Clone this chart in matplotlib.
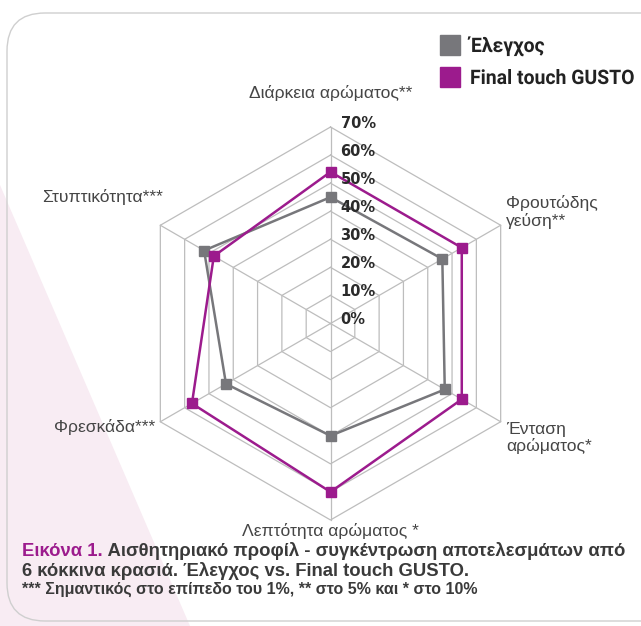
import numpy as np
import matplotlib.pyplot as plt
from matplotlib.patches import FancyBboxPatch, Polygon, PathPatch
from matplotlib.textpath import TextPath
from matplotlib.font_manager import FontProperties
from matplotlib.transforms import Affine2D

# Δεδομένα (% ποσοστά)
labels = ['Διάρκεια αρώματος**', 'Φρουτώδης\nγεύση**', 'Ένταση\nαρώματος*',
          'Λεπτότητα αρώματος *', 'Φρεσκάδα***', 'Στυπτικότητα***']
elegxos = [45, 46, 47, 40, 43, 52]
gusto = [54, 54, 54, 60, 57, 48]
rings = [10, 20, 30, 40, 50, 60, 70]
ring_labels = ['0%', '10%', '20%', '30%', '40%', '50%', '60%', '70%']
series_names = ['Έλεγχος', 'Final touch GUSTO']

grey = '#77777b'
purple = '#9c1b8d'
text_col = '#454545'

fig = plt.figure(figsize=(6.41, 6.26), dpi=100)
ax = fig.add_axes([0, 0, 1, 1])
ax.set_xlim(0, 641)
ax.set_ylim(626, 0)
ax.axis('off')

# φόντο
ax.add_patch(Polygon([(0, 185), (190, 626), (0, 626)], closed=True,
                     facecolor='#f8ecf3', edgecolor='none', zorder=0))
ax.add_patch(FancyBboxPatch((7, 13), 680, 608, boxstyle='round,pad=0,rounding_size=38',
                            facecolor='none', edgecolor='#cfcfcf', lw=1.0, zorder=1))

cx, cy, k = 330.5, 323.5, 2.807
angles = np.deg2rad([90, 30, -30, -90, -150, 150])

def xy(vals):
    v = np.asarray(vals, dtype=float)
    return cx + v * k * np.cos(angles), cy - v * k * np.sin(angles)

# πλέγμα
for r in rings:
    x, y = xy([r] * 6)
    ax.plot(np.append(x, x[0]), np.append(y, y[0]), color='#bdbdbd', lw=0.9, zorder=2)
x70, y70 = xy([70] * 6)
for i in range(6):
    ax.plot([cx, x70[i]], [cy, y70[i]], color='#bdbdbd', lw=0.9, zorder=2)

for i, t in enumerate(ring_labels):
    ax.text(cx + 10, cy - i * 10 * k - 4, t, fontsize=10.5, fontweight='bold',
            color='#2a2a2a', ha='left', va='center', zorder=5)

# σειρές
for vals, col in [(elegxos, grey), (gusto, purple)]:
    x, y = xy(vals)
    ax.plot(np.append(x, x[0]), np.append(y, y[0]), color=col, lw=1.8, zorder=3)
    ax.plot(x, y, 's', color=col, ms=6.5, zorder=4)

# ετικέτες αξόνων
lab_font = dict(fontsize=12.6, color=text_col, family='Liberation Sans')
ax.text(cx, 93, labels[0], ha='center', va='center', **lab_font)
ax.text(506, 212, labels[1], ha='left', va='center', linespacing=1.15, **lab_font)
ax.text(506, 438, labels[2], ha='left', va='center', linespacing=1.15, **lab_font)
ax.text(cx, 531, labels[3], ha='center', va='center', **lab_font)
ax.text(155, 427, labels[4], ha='right', va='center', **lab_font)
ax.text(163, 197, labels[5], ha='right', va='center', **lab_font)

# υπόμνημα (στενή γραφή: οριζόντια συμπίεση)
fp = FontProperties(family='Roboto', weight='bold')
for yy, col, name in [(45, grey, series_names[0]), (77, purple, series_names[1])]:
    ax.add_patch(plt.Rectangle((440, yy - 10), 20, 20, color=col, zorder=5))
    tp = TextPath((0, 0), name, size=20, prop=fp)
    tr = Affine2D().scale(0.97, -1).translate(470, yy + 7) + ax.transData
    ax.add_patch(PathPatch(tp, transform=tr, facecolor='#222222', edgecolor='none', zorder=5))

# λεζάντα
cap = dict(fontsize=13.3, fontweight='bold', family='Liberation Sans')
t1 = ax.text(22, 556, 'Εικόνα 1.', color=purple, ha='left', va='baseline', **cap)
ax.annotate(' Αισθητηριακό προφίλ - συγκέντρωση αποτελεσμάτων από', xy=(1, 0),
            xycoords=t1, va='bottom', ha='left', color='#3a3a3a', **cap)
ax.text(22, 576, '6 κόκκινα κρασιά. Έλεγχος vs. Final touch GUSTO.', color='#3a3a3a',
        ha='left', va='baseline', **cap)
ax.text(22, 594, '*** Σημαντικός στο επίπεδο του 1%, ** στο 5% και * στο 10%',
        color='#3a3a3a', ha='left', va='baseline', fontsize=11.5, fontweight='bold',
        family='Liberation Sans')

fig.savefig('out.png', dpi=100)
